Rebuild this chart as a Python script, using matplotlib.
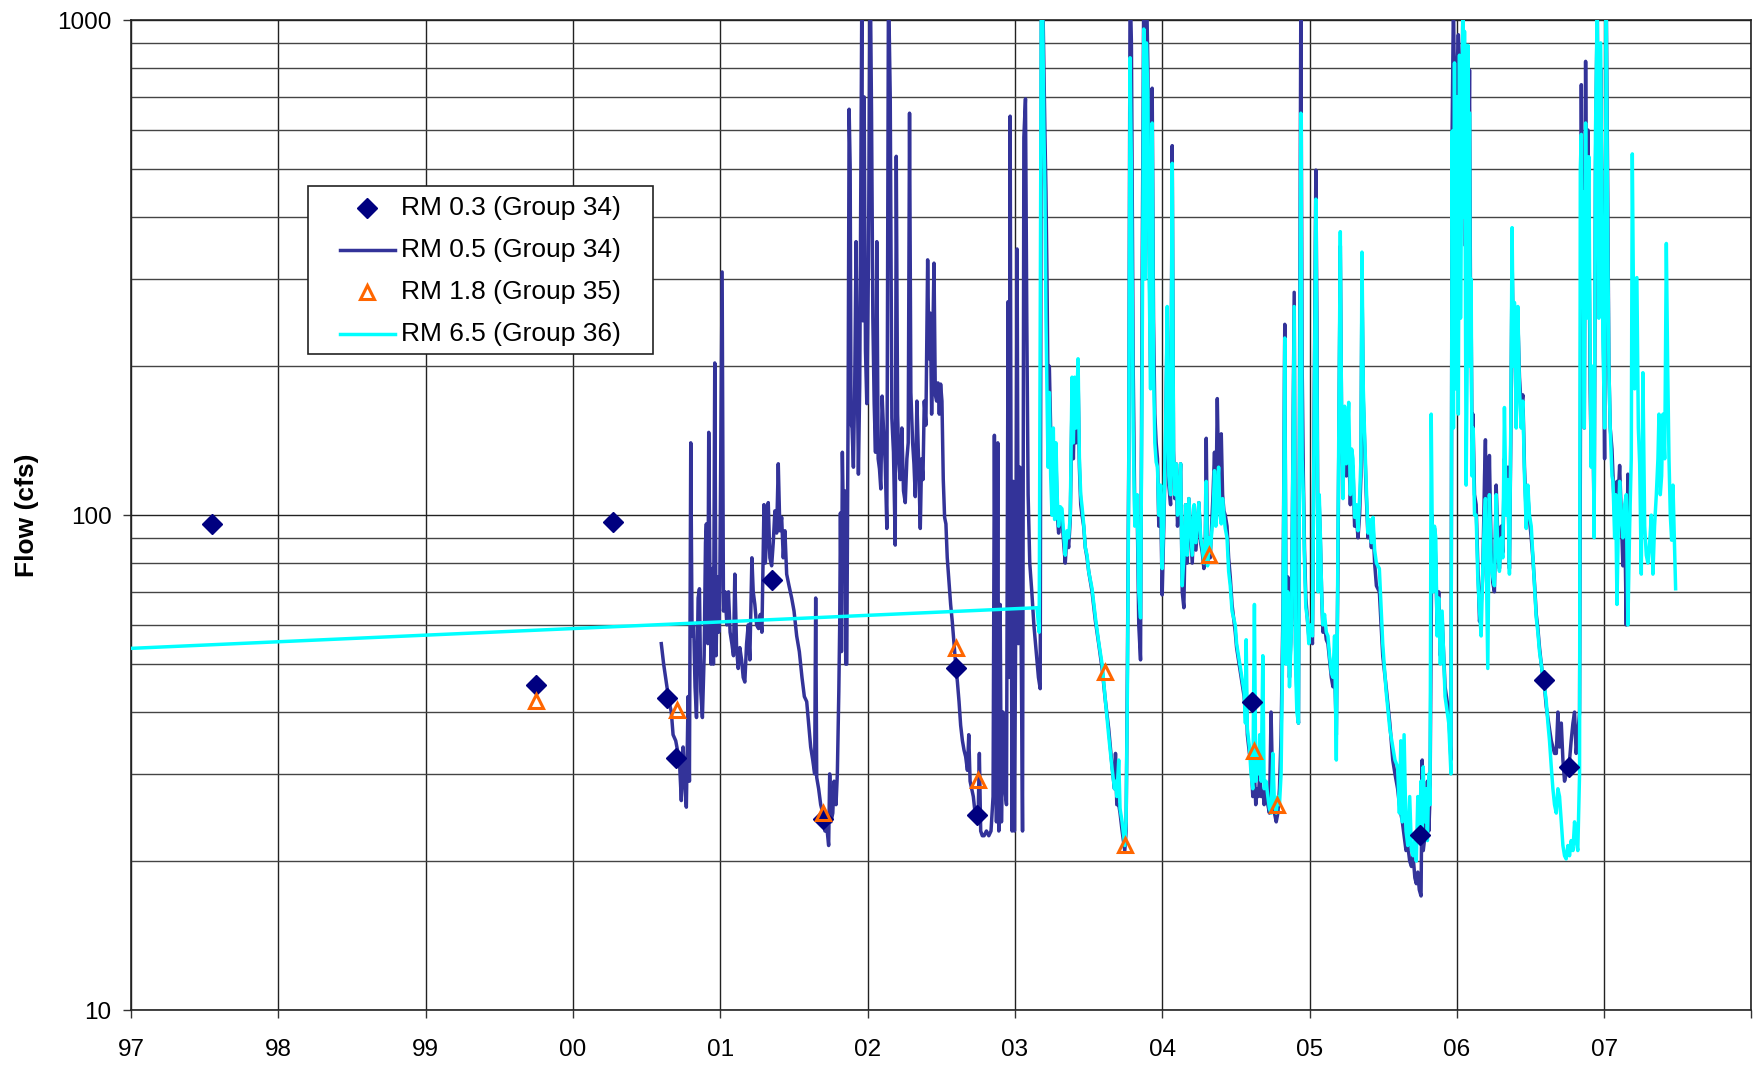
import numpy as np
import matplotlib.pyplot as plt
from matplotlib.ticker import FixedLocator, LogLocator, NullFormatter, FixedFormatter
from matplotlib.patches import Rectangle

plt.rcParams['font.family'] = ['Liberation Sans', 'DejaVu Sans']

# --- RM 0.3 (Group 34) grab samples ---
rm03_yr = [1997.55, 1999.75, 2000.27, 2000.64, 2000.70, 2001.35, 2001.70,
           2002.60, 2002.74, 2004.61, 2005.75, 2006.59, 2006.76]
rm03_q = [96, 45.3, 97, 42.8, 32.3, 73.9, 24.3, 49.0, 24.8, 41.9, 22.6, 46.5, 31.0]

# --- RM 1.8 (Group 35) grab samples ---
rm18_yr = [1999.75, 2000.71, 2001.70, 2002.60, 2002.75, 2003.61, 2003.75,
           2004.32, 2004.62, 2004.78]
rm18_q = [42.1, 40.4, 25.0, 53.8, 29.2, 48.2, 21.6, 82.9, 33.3, 25.9]

# --- RM 0.5 (Group 34) daily flow before the RM 6.5 gage record ---
rm05_early = [
    (2000.600, 55), (2000.616, 50), (2000.634, 46), (2000.653, 42), (2000.668, 40),
    (2000.680, 36), (2000.698, 35), (2000.714, 33), (2000.725, 31), (2000.736, 26.5),
    (2000.748, 34), (2000.759, 29), (2000.770, 25.7), (2000.782, 43), (2000.791, 29),
    (2000.800, 140), (2000.809, 57), (2000.820, 60), (2000.829, 45), (2000.839, 39),
    (2000.850, 68), (2000.859, 71), (2000.868, 44), (2000.879, 39), (2000.891, 52),
    (2000.900, 88), (2000.906, 96), (2000.916, 55), (2000.922, 147), (2000.931, 70),
    (2000.938, 50), (2000.947, 78), (2000.954, 50), (2000.963, 203), (2000.972, 52),
    (2000.981, 75), (2000.990, 58), (2000.997, 72), (2001.013, 310), (2001.022, 64),
    (2001.033, 70), (2001.045, 60), (2001.056, 70), (2001.067, 58), (2001.079, 55),
    (2001.090, 52), (2001.099, 76), (2001.111, 54), (2001.122, 49), (2001.133, 54),
    (2001.145, 51), (2001.156, 47), (2001.167, 46), (2001.179, 55), (2001.190, 60),
    (2001.201, 51), (2001.215, 82), (2001.224, 70), (2001.235, 66), (2001.247, 60),
    (2001.260, 59), (2001.272, 63), (2001.283, 58), (2001.297, 105), (2001.306, 80),
    (2001.315, 90), (2001.326, 106), (2001.337, 82), (2001.349, 79), (2001.360, 88),
    (2001.371, 102), (2001.383, 92), (2001.394, 127), (2001.405, 93), (2001.417, 99),
    (2001.428, 82), (2001.439, 93), (2001.451, 76), (2001.467, 72), (2001.485, 68),
    (2001.501, 64), (2001.519, 57), (2001.537, 53), (2001.555, 47), (2001.571, 43),
    (2001.587, 42), (2001.600, 38), (2001.614, 34), (2001.628, 32), (2001.641, 30),
    (2001.648, 68), (2001.655, 29.5), (2001.668, 28), (2001.682, 26), (2001.696, 25),
    (2001.711, 23), (2001.723, 23.5), (2001.736, 21.5), (2001.743, 30), (2001.752, 24),
    (2001.764, 25), (2001.773, 29), (2001.786, 26), (2001.795, 30), (2001.805, 44),
    (2001.811, 60), (2001.816, 101), (2001.823, 53), (2001.829, 134), (2001.838, 90),
    (2001.845, 112), (2001.852, 50), (2001.859, 50), (2001.868, 163), (2001.875, 661),
    (2001.882, 506), (2001.888, 153), (2001.895, 150), (2001.904, 125), (2001.913, 184),
    (2001.922, 357), (2001.931, 184), (2001.938, 121), (2001.947, 184), (2001.954, 443),
    (2001.961, 1100), (2001.968, 247), (2001.977, 700), (2001.986, 215), (2001.995, 168),
    (2002.006, 317), (2002.018, 1300), (2002.027, 650), (2002.036, 250), (2002.045, 168),
    (2002.054, 134), (2002.063, 357), (2002.072, 130), (2002.081, 124), (2002.090, 113),
    (2002.099, 174), (2002.108, 150), (2002.120, 127), (2002.131, 94), (2002.142, 1200),
    (2002.154, 700), (2002.165, 157), (2002.176, 134), (2002.188, 87), (2002.195, 531),
    (2002.204, 160), (2002.213, 127), (2002.222, 118), (2002.233, 150), (2002.244, 112),
    (2002.256, 106), (2002.267, 130), (2002.276, 140), (2002.285, 649), (2002.294, 177),
    (2002.306, 140), (2002.315, 127), (2002.324, 109), (2002.335, 170), (2002.346, 130),
    (2002.358, 94), (2002.367, 130), (2002.376, 118), (2002.385, 170), (2002.396, 152),
    (2002.408, 328), (2002.417, 207), (2002.426, 256), (2002.435, 160), (2002.444, 240),
    (2002.451, 323), (2002.460, 175), (2002.469, 170), (2002.478, 185), (2002.487, 160),
    (2002.496, 184), (2002.505, 170), (2002.514, 118), (2002.523, 99), (2002.532, 96),
    (2002.541, 82), (2002.553, 73), (2002.564, 66), (2002.575, 61), (2002.587, 55),
    (2002.598, 50), (2002.610, 46), (2002.621, 42), (2002.632, 37.6), (2002.644, 35),
    (2002.655, 33.5), (2002.666, 32.5), (2002.678, 30.5), (2002.687, 36), (2002.696, 29),
    (2002.707, 28), (2002.718, 27), (2002.730, 25), (2002.741, 25), (2002.750, 24),
    (2002.759, 33), (2002.768, 23), (2002.779, 22.5), (2002.791, 22.5), (2002.807, 23),
    (2002.823, 22.5), (2002.838, 23), (2002.852, 27), (2002.861, 145), (2002.868, 45),
    (2002.875, 24), (2002.884, 140), (2002.891, 23), (2002.900, 66), (2002.909, 24),
    (2002.920, 40), (2002.932, 28), (2002.943, 26), (2002.954, 270), (2002.961, 47),
    (2002.968, 640), (2002.975, 90), (2002.981, 23), (2002.990, 117), (2002.997, 23),
    (2003.006, 62), (2003.015, 345), (2003.024, 55), (2003.034, 125), (2003.042, 60),
    (2003.052, 23), (2003.061, 580), (2003.072, 694), (2003.081, 247), (2003.090, 110),
    (2003.101, 80), (2003.115, 70), (2003.129, 60), (2003.147, 52), (2003.160, 47),
    (2003.172, 44.6),
]

# --- RM 6.5 (Group 36): gap-filled line before its daily record starts ---
rm65_fill = [(1997.000, 53.8), (2003.150, 65), (2003.165, 58)]

# --- shared period: (year, RM 6.5 flow, RM 0.5 flow) ---
overlap = [
    (2003.180, 1200, 1200), (2003.188, 1100, 1200), (2003.197, 600, 800),
    (2003.204, 450, 590), (2003.211, 250, 450), (2003.218, 177, 300),
    (2003.225, 125, 180), (2003.234, 177, 200), (2003.243, 120, 150),
    (2003.252, 100, 110), (2003.261, 150, 140), (2003.270, 98, 108),
    (2003.279, 140, 130), (2003.288, 108, 100), (2003.297, 95, 92),
    (2003.308, 104, 100), (2003.320, 103, 98), (2003.331, 92, 88),
    (2003.342, 83, 80), (2003.354, 93, 92), (2003.365, 90, 86),
    (2003.376, 100, 98), (2003.388, 190, 170), (2003.397, 140, 130),
    (2003.406, 190, 175), (2003.415, 150, 140), (2003.429, 207, 190),
    (2003.438, 130, 125), (2003.447, 110, 105), (2003.456, 104, 100),
    (2003.467, 96, 95), (2003.478, 86, 86), (2003.490, 83, 82),
    (2003.501, 77, 77), (2003.524, 71, 70), (2003.547, 62, 61),
    (2003.569, 55.4, 55), (2003.592, 50, 49), (2003.615, 42, 42),
    (2003.637, 35.8, 37), (2003.660, 30.7, 31), (2003.676, 28, 28),
    (2003.683, 29, 33), (2003.692, 27, 26), (2003.705, 32, 26),
    (2003.714, 25.5, 25), (2003.728, 24, 23), (2003.746, 21.5, 21),
    (2003.755, 24, 23), (2003.764, 45, 50), (2003.773, 120, 130),
    (2003.782, 840, 1200), (2003.791, 500, 900), (2003.803, 150, 200),
    (2003.814, 95, 100), (2003.830, 110, 105), (2003.841, 70, 60),
    (2003.853, 62, 51), (2003.864, 200, 300), (2003.875, 960, 1200),
    (2003.884, 300, 400), (2003.893, 900, 1200), (2003.903, 700, 800),
    (2003.912, 300, 350), (2003.921, 180, 200), (2003.932, 620, 729),
    (2003.941, 200, 250), (2003.950, 140, 160), (2003.959, 128, 140),
    (2003.968, 125, 130), (2003.977, 100, 95), (2003.989, 115, 110),
    (2004.000, 78, 69), (2004.011, 100, 95), (2004.023, 150, 140),
    (2004.034, 264, 250), (2004.045, 120, 115), (2004.057, 110, 105),
    (2004.068, 514, 558), (2004.077, 130, 135), (2004.086, 110, 108),
    (2004.095, 127, 127), (2004.104, 100, 95), (2004.113, 108, 105),
    (2004.125, 127, 127), (2004.136, 72, 70), (2004.147, 82, 65),
    (2004.159, 105, 105), (2004.170, 83, 80), (2004.181, 108, 108),
    (2004.204, 83, 80), (2004.217, 105, 103), (2004.229, 88, 85),
    (2004.249, 106, 106), (2004.261, 90, 88), (2004.272, 86, 84),
    (2004.283, 80, 78), (2004.292, 84, 85), (2004.299, 117, 143),
    (2004.308, 79, 80), (2004.317, 90, 90), (2004.326, 84, 82),
    (2004.345, 100, 110), (2004.355, 123, 134), (2004.364, 95, 100),
    (2004.374, 112, 172), (2004.383, 125, 120), (2004.392, 100, 105),
    (2004.401, 96, 146), (2004.410, 108, 110), (2004.419, 100, 102),
    (2004.428, 94, 100), (2004.440, 90, 95), (2004.451, 77, 82),
    (2004.462, 72, 75), (2004.474, 64, 66), (2004.485, 62, 62),
    (2004.496, 60, 58), (2004.505, 55, 54), (2004.522, 51, 50),
    (2004.540, 47, 46), (2004.556, 44, 43), (2004.565, 38, 40),
    (2004.570, 56, 45), (2004.578, 37, 36), (2004.592, 34, 33),
    (2004.603, 30, 32), (2004.615, 28, 27), (2004.626, 66, 30),
    (2004.635, 29, 26), (2004.644, 33, 28), (2004.653, 30, 27),
    (2004.662, 36, 30), (2004.672, 29, 27), (2004.683, 52, 28),
    (2004.692, 28, 26), (2004.705, 29, 28), (2004.717, 27, 26),
    (2004.728, 25.5, 25), (2004.739, 25, 40), (2004.751, 33, 27),
    (2004.762, 26, 25), (2004.774, 25, 24), (2004.785, 27, 25),
    (2004.796, 26, 28), (2004.807, 30, 36), (2004.820, 60, 65),
    (2004.832, 228, 243), (2004.841, 50, 55), (2004.853, 70, 75),
    (2004.864, 45, 47), (2004.878, 60, 62), (2004.896, 264, 282),
    (2004.905, 50, 55), (2004.914, 40, 44), (2004.925, 38, 38),
    (2004.941, 649, 1100), (2004.950, 130, 200), (2004.958, 110, 120),
    (2004.966, 80, 85), (2004.975, 65, 68), (2004.985, 62, 62),
    (2004.995, 55, 57), (2005.005, 60, 60), (2005.020, 57, 55),
    (2005.043, 435, 498), (2005.050, 200, 250), (2005.058, 70, 72),
    (2005.066, 110, 105), (2005.074, 90, 88), (2005.082, 70, 70),
    (2005.091, 60, 58), (2005.102, 63, 60), (2005.114, 58, 56),
    (2005.125, 57, 55), (2005.136, 52, 51), (2005.148, 48, 47),
    (2005.159, 47, 45), (2005.170, 57, 50), (2005.182, 32, 36),
    (2005.193, 90, 80), (2005.202, 200, 180), (2005.209, 374, 350),
    (2005.218, 150, 150), (2005.227, 108, 120), (2005.238, 166, 150),
    (2005.250, 127, 120), (2005.266, 169, 140), (2005.277, 110, 105),
    (2005.286, 136, 128), (2005.295, 130, 125), (2005.306, 99, 95),
    (2005.318, 105, 100), (2005.329, 93, 90), (2005.340, 108, 100),
    (2005.349, 130, 120), (2005.356, 340, 300), (2005.365, 180, 170),
    (2005.374, 145, 140), (2005.385, 115, 110), (2005.397, 92, 90),
    (2005.408, 98, 95), (2005.420, 88, 86), (2005.431, 99, 95),
    (2005.442, 85, 80), (2005.454, 80, 72), (2005.474, 78, 70),
    (2005.497, 55, 52), (2005.520, 44, 45), (2005.545, 37, 38),
    (2005.565, 34, 32), (2005.580, 32, 30), (2005.598, 31, 28),
    (2005.610, 25, 26), (2005.620, 35, 25), (2005.630, 24, 24),
    (2005.642, 36, 22.5), (2005.655, 23, 21), (2005.667, 21.5, 21.5),
    (2005.680, 27, 20), (2005.692, 21, 19.5), (2005.703, 20.5, 20.5),
    (2005.715, 22, 18.5), (2005.725, 20, 18), (2005.735, 27, 19),
    (2005.745, 22, 17.5), (2005.757, 29, 17), (2005.765, 23, 32),
    (2005.772, 31, 21), (2005.780, 24, 22), (2005.790, 28, 24),
    (2005.800, 22, 29), (2005.810, 30, 23), (2005.818, 26, 27),
    (2005.826, 160, 60), (2005.832, 100, 100), (2005.839, 70, 75),
    (2005.848, 95, 94), (2005.857, 90, 80), (2005.866, 57, 60),
    (2005.877, 68, 70), (2005.888, 50, 52), (2005.900, 64, 62),
    (2005.920, 43, 45), (2005.945, 38, 40), (2005.960, 30, 32),
    (2005.968, 597, 600), (2005.977, 150, 1100), (2005.984, 820, 700),
    (2005.990, 180, 300), (2005.995, 283, 400), (2006.002, 700, 800),
    (2006.010, 160, 935), (2006.018, 850, 780), (2006.025, 250, 400),
    (2006.032, 450, 500), (2006.041, 1100, 1100), (2006.047, 400, 500),
    (2006.052, 950, 900), (2006.058, 300, 350), (2006.063, 115, 500),
    (2006.070, 200, 300), (2006.075, 890, 600), (2006.081, 400, 500),
    (2006.086, 650, 793), (2006.092, 200, 300), (2006.097, 300, 250),
    (2006.103, 120, 140), (2006.109, 150, 160), (2006.120, 100, 110),
    (2006.131, 100, 105), (2006.142, 75, 80), (2006.154, 64, 61),
    (2006.165, 57, 66), (2006.176, 78, 76), (2006.188, 100, 120),
    (2006.194, 108, 142), (2006.203, 70, 78), (2006.210, 49, 70),
    (2006.221, 110, 132), (2006.233, 80, 85), (2006.244, 75, 73),
    (2006.255, 72, 70), (2006.267, 110, 115), (2006.278, 85, 90),
    (2006.289, 77, 78), (2006.301, 90, 95), (2006.312, 82, 84),
    (2006.323, 165, 130), (2006.335, 100, 105), (2006.346, 118, 125),
    (2006.357, 76, 78), (2006.366, 150, 140), (2006.375, 381, 330),
    (2006.384, 200, 210), (2006.391, 269, 250), (2006.403, 150, 160),
    (2006.414, 264, 250), (2006.425, 180, 190), (2006.437, 150, 165),
    (2006.448, 170, 175), (2006.459, 120, 125), (2006.471, 94, 100),
    (2006.482, 115, 110), (2006.493, 100, 98), (2006.505, 95, 90),
    (2006.516, 83, 82), (2006.527, 72, 73), (2006.539, 62, 63),
    (2006.550, 58, 59), (2006.561, 53, 54), (2006.573, 50, 50),
    (2006.584, 47, 47), (2006.595, 45, 45), (2006.607, 42, 41),
    (2006.618, 38, 39), (2006.629, 35, 37), (2006.641, 31, 35),
    (2006.652, 28, 34), (2006.663, 26, 33), (2006.675, 25, 33),
    (2006.686, 28, 40), (2006.697, 27, 34), (2006.709, 24, 38),
    (2006.720, 21.5, 32), (2006.731, 20.5, 29), (2006.742, 20.2, 30),
    (2006.754, 21.5, 31), (2006.765, 20.5, 32), (2006.776, 22, 35),
    (2006.788, 21, 38), (2006.799, 24, 40), (2006.810, 22, 33),
    (2006.821, 21, 36), (2006.833, 30, 40), (2006.838, 500, 120),
    (2006.845, 588, 741), (2006.849, 300, 400), (2006.856, 450, 200),
    (2006.865, 150, 150), (2006.874, 620, 826), (2006.883, 250, 300),
    (2006.890, 400, 600), (2006.896, 530, 400), (2006.905, 200, 180),
    (2006.912, 125, 130), (2006.923, 200, 160), (2006.932, 90, 95),
    (2006.941, 588, 500), (2006.953, 1100, 1100), (2006.964, 250, 280),
    (2006.976, 900, 800), (2006.985, 400, 400), (2006.991, 230, 300),
    (2007.003, 150, 130), (2007.014, 1100, 1100), (2007.023, 400, 500),
    (2007.032, 200, 200), (2007.041, 150, 150), (2007.053, 120, 136),
    (2007.060, 117, 120), (2007.071, 90, 100), (2007.078, 110, 93),
    (2007.087, 66, 117), (2007.096, 95, 110), (2007.105, 117, 126),
    (2007.116, 98, 100), (2007.127, 90, 79), (2007.139, 105, 100),
    (2007.150, 110, 60), (2007.161, 60, 121), (2007.173, 95, 100),
]

# --- RM 6.5 after the RM 0.5 record ends ---
rm65_tail = [
    (2007.184, 130), (2007.191, 537), (2007.200, 250), (2007.207, 180), (2007.213, 300),
    (2007.222, 302), (2007.232, 150), (2007.241, 127), (2007.252, 76), (2007.263, 194),
    (2007.275, 95), (2007.286, 83), (2007.297, 80), (2007.309, 88), (2007.320, 100),
    (2007.331, 76), (2007.342, 95), (2007.354, 110), (2007.365, 130), (2007.372, 160),
    (2007.381, 110), (2007.390, 120), (2007.399, 160), (2007.411, 130), (2007.422, 354),
    (2007.431, 200), (2007.440, 130), (2007.449, 100), (2007.458, 89), (2007.467, 115),
    (2007.476, 90), (2007.485, 71),
]

year_ticks = list(range(1997, 2009))
year_labels = ['97', '98', '99', '00', '01', '02', '03', '04', '05', '06', '07', '']
legend_labels = ['RM 0.3 (Group 34)', 'RM 0.5 (Group 34)', 'RM 1.8 (Group 35)',
                 'RM 6.5 (Group 36)']

# assemble series
ov = np.array(overlap, dtype=float)
early = np.array(rm05_early, dtype=float)
fill = np.array(rm65_fill, dtype=float)
tail = np.array(rm65_tail, dtype=float)

rm05_x = np.concatenate([early[:, 0], ov[:, 0]])
rm05_y = np.concatenate([early[:, 1], ov[:, 2]])
rm65_x = np.concatenate([fill[:, 0], ov[:, 0], tail[:, 0]])
rm65_y = np.concatenate([fill[:, 1], ov[:, 1], tail[:, 1]])

BLUE = '#333399'
CYAN = '#00FFFF'
NAVY = '#000080'
ORANGE = '#FF6600'
LW = 2.5

diamond = dict(ls='none', marker='D', ms=10, color=NAVY)
triangle = dict(ls='none', marker='^', ms=10.5, mfc='none', mec=ORANGE, mew=2.2)

fig = plt.figure(figsize=(17.55, 10.67), dpi=100)
ax = fig.add_axes([0.0746, 0.0534, 0.9234, 0.9276])

ax.plot(rm05_x, rm05_y, color=BLUE, lw=LW, zorder=3)
ax.plot(rm65_x, rm65_y, color=CYAN, lw=LW, zorder=4)
ax.plot(rm03_yr, rm03_q, zorder=5, **diamond)
ax.plot(rm18_yr, rm18_q, zorder=6, **triangle)

ax.set_yscale('log')
ax.set_ylim(10, 1000)
ax.set_xlim(1997, 2008)

ax.xaxis.set_major_locator(FixedLocator(year_ticks))
ax.xaxis.set_major_formatter(FixedFormatter(year_labels))
ax.yaxis.set_major_locator(FixedLocator([10, 100, 1000]))
ax.yaxis.set_major_formatter(FixedFormatter(['10', '100', '1000']))
ax.yaxis.set_minor_locator(LogLocator(base=10, subs=range(2, 10)))
ax.yaxis.set_minor_formatter(NullFormatter())

ax.grid(True, which='major', axis='both', color='#222222', lw=1.0)
ax.grid(True, which='minor', axis='y', color='#444444', lw=1.0)
ax.set_axisbelow(True)

ax.tick_params(axis='both', which='major', direction='out', length=6, width=1,
               labelsize=17.5, color='#333333')
ax.tick_params(axis='x', pad=15)
ax.tick_params(axis='y', pad=8)
ax.tick_params(axis='y', which='minor', length=0)
for s in ax.spines.values():
    s.set_color('#222222')
    s.set_linewidth(1.2)

ax.set_ylabel('Flow (cfs)', fontsize=19, fontweight='bold', labelpad=13)

# legend box drawn in axes fraction coordinates
box = Rectangle((0.1092, 0.6626), 0.2128, 0.1697, transform=ax.transAxes,
                facecolor='white', edgecolor='#222222', lw=1.2, zorder=10)
ax.add_patch(box)
row_y = [0.810, 0.768, 0.725, 0.683]
handle_x0, handle_x1, text_x = 0.1289, 0.1629, 0.1669
mid_x = (handle_x0 + handle_x1) / 2
ax.plot([mid_x], [row_y[0]], transform=ax.transAxes, zorder=11, clip_on=False, **diamond)
ax.plot([handle_x0, handle_x1], [row_y[1]] * 2, transform=ax.transAxes, color=BLUE,
        lw=LW, zorder=11, clip_on=False)
ax.plot([mid_x], [row_y[2]], transform=ax.transAxes, zorder=11, clip_on=False, **triangle)
ax.plot([handle_x0, handle_x1], [row_y[3]] * 2, transform=ax.transAxes, color=CYAN,
        lw=LW, zorder=11, clip_on=False)
for yy, lab in zip(row_y, legend_labels):
    ax.text(text_x, yy, lab, transform=ax.transAxes, fontsize=19, va='center',
            ha='left', zorder=12)

fig.savefig('out.png', dpi=100)
